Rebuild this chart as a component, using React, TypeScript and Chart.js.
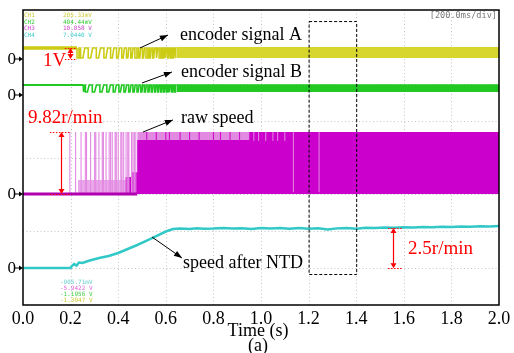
import React, { useEffect, useRef } from 'react';
import { Chart, registerables } from 'chart.js';

Chart.register(...registerables);

const SERIF = "'Liberation Serif', 'Times New Roman', 'DejaVu Serif', serif";
const MONO = "'DejaVu Sans Mono', 'Liberation Mono', monospace";

// ---- axes ----
const xTickLabels = ['0.0', '0.2', '0.4', '0.6', '0.8', '1.0', '1.2', '1.4', '1.6', '1.8', '2.0'];
const xTitle = 'Time (s)';
const subCaption = '(a)';
const Y_DIVS = 8; // vertical oscilloscope divisions

// ---- encoder signal A (yellow) ----
const encAHigh = 6.97;
const encALow = 6.70;
const encAFlatEnd = 0.227;
const encAPulses = [0.227, 0.242, 0.274, 0.308, 0.34, 0.368, 0.393, 0.415, 0.435, 0.453, 0.47, 0.486,
  0.502, 0.517, 0.531, 0.545, 0.559, 0.572, 0.585, 0.597, 0.608, 0.619, 0.63, 0.64];
const encABandStart = 0.645;

// ---- encoder signal B (green) ----
const encBHigh = 5.966;
const encBLow = 5.776;
const encBFlatEnd = 0.253;
const encBPulses = [0.253, 0.262, 0.291, 0.323, 0.352, 0.379, 0.403, 0.424, 0.444, 0.462, 0.479, 0.495,
  0.51, 0.525, 0.539, 0.553, 0.566, 0.579, 0.591, 0.603, 0.614, 0.625, 0.636];
const encBBandStart = 0.645;

// ---- raw speed (magenta) ----
const rawBase = 3.01;
const rawTop = 4.692;
const rawSpikeTimes = [0.197, 0.221, 0.244, 0.262, 0.267, 0.284, 0.301, 0.306, 0.319, 0.333, 0.338, 0.349,
  0.362, 0.368, 0.375, 0.387, 0.392, 0.4, 0.411, 0.416, 0.423, 0.433, 0.44, 0.445, 0.456, 0.462, 0.468, 0.474];
const rawLowBandT = [0.23, 0.48];
const rawLowBandV = [3.39, 3.39];
const rawLightBandT = [0.48, 0.95];
const rawLightBandV = [4.692, 4.692];
const rawDarkT = [0.43, 0.43, 0.455, 0.455, 0.48, 0.48, 0.95, 0.95, 2.0];
const rawDarkV = [3.01, 3.47, 3.47, 3.6, 3.6, 4.475, 4.475, 4.692, 4.692];
const rawDarkStreakTimes = [0.52, 0.56, 0.6, 0.615, 0.66, 0.7, 0.74, 0.8, 0.83, 0.87, 0.91];
const rawLongLightStreaks = [1.136, 1.244];
const rawShortLightStreaks = [0.97, 0.99, 1.02, 1.05, 1.07, 1.1];

// ---- speed after NTD (cyan) ----
const ntdT = [0, 0.1, 0.2, 0.205, 0.215, 0.225, 0.235, 0.25, 0.28, 0.32, 0.36, 0.4, 0.44, 0.48, 0.52, 0.56,
  0.6, 0.63, 0.66, 0.7, 0.73, 0.76, 0.8, 0.84, 0.88, 0.92, 0.96, 1.0, 1.04, 1.08, 1.12, 1.16, 1.2, 1.24,
  1.28, 1.32, 1.36, 1.4, 1.44, 1.48, 1.52, 1.56, 1.6, 1.64, 1.68, 1.72, 1.76, 1.8, 1.84, 1.88, 1.92, 1.96, 2.0];
const ntdV = [1.003, 1.003, 1.003, 1.058, 1.112, 1.071, 1.153, 1.139, 1.207, 1.275, 1.329, 1.41, 1.519, 1.627,
  1.749, 1.871, 1.993, 2.061, 2.075, 2.061, 2.08, 2.066, 2.075, 2.09, 2.072, 2.08, 2.061, 2.088, 2.075, 2.09,
  2.07, 2.085, 2.066, 2.082, 2.05, 2.078, 2.088, 2.07, 2.095, 2.085, 2.1, 2.092, 2.11, 2.102, 2.118, 2.108,
  2.122, 2.115, 2.128, 2.12, 2.133, 2.128, 2.142];

// ---- channel zero markers ----
const zeroLevels = [6.671, 5.695, 3.01, 1.003];

// ---- readouts ----
const topReadLabels = ['CH1', 'CH2', 'CH3', 'CH4'];
const topReadValues = ['205.33mV', '404.44mV', '10.058 V', '7.0440 V'];
const topReadColors = ['#cccc33', '#33cc33', '#cc44cc', '#44cccc'];
const bottomReadValues = ['-905.71mV', '-5.9422 V', '-1.1956 V', '-1.3947 V'];
const bottomReadColors = ['#66cccc', '#dd66dd', '#44cc44', '#cccc33'];
const timeBase = '[200.0ms/div]';

// ---- annotations (data units: t, divisions) ----
const labelTexts = ['encoder signal A', 'encoder signal B', 'raw speed', 'speed after NTD'];
const labelPos = [[0.66, 7.35], [0.664, 6.35], [0.664, 5.1], [0.672, 1.166]];
const labelArrows = [
  [0.4916, 6.97, 0.609, 7.32],
  [0.5, 6.02, 0.626, 6.32],
  [0.504, 4.69, 0.63, 5.02],
  [0.542, 1.844, 0.668, 1.275],
];
const redTexts = ['1V', '9.82r/min', '2.5r/min'];
const redTextPos = [[0.084, 6.64, 'left'], [0.021, 5.1, 'left'], [1.618, 1.546, 'left']];
const redArrowX = [0.197, 0.16, 1.555];
const redArrowY = [[6.97, 6.67], [4.69, 3.01], [2.09, 1.0]];
const redDotX = [[0.176, 0.227], [0.113, 0.2017], [1.534, 1.592]];
const zoomBox = [1.2, 7.7, 1.4, 0.84];

const COL_Y = '#cccc14';
const COL_YB = '#d6d62e';
const COL_G = '#22c922';
const COL_M = '#cc00cc';
const COL_ML = '#e28ae2';
const COL_MLL = '#eaa8ea';
const COL_C = '#33c8c8';

type P = { x: number; y: number | null };
const pts = (ts: number[], vs: number[]): P[] => ts.map((t, i) => ({ x: t, y: vs[i] }));

function pulseTrain(pulses: number[], end: number, hi: number, lo: number): P[] {
  const out: P[] = [];
  pulses.forEach((p, i) => {
    const next = i + 1 < pulses.length ? pulses[i + 1] : end;
    const d = next - p;
    out.push({ x: p, y: hi }, { x: p, y: lo }, { x: p + d * 0.3, y: lo }, { x: p + d * 0.55, y: hi });
  });
  out.push({ x: end, y: hi });
  return out;
}

function spikes(ts: number[], lo: number, hi: number): P[] {
  const out: P[] = [];
  ts.forEach((t) => out.push({ x: t, y: lo }, { x: t, y: hi }, { x: t, y: null }));
  return out;
}

function line(data: P[], color: string, width: number, order: number, extra: any = {}) {
  return {
    data,
    borderColor: color,
    backgroundColor: color,
    borderWidth: width,
    pointRadius: 0,
    tension: 0,
    spanGaps: false,
    fill: false,
    order,
    ...extra,
  };
}

function drawArrowHead(ctx: CanvasRenderingContext2D, x1: number, y1: number, x2: number, y2: number, len: number, half: number) {
  const a = Math.atan2(y2 - y1, x2 - x1);
  ctx.beginPath();
  ctx.moveTo(x2, y2);
  ctx.lineTo(x2 - len * Math.cos(a) + half * Math.sin(a), y2 - len * Math.sin(a) - half * Math.cos(a));
  ctx.lineTo(x2 - len * Math.cos(a) - half * Math.sin(a), y2 - len * Math.sin(a) + half * Math.cos(a));
  ctx.closePath();
  ctx.fill();
}

const overlay = {
  id: 'overlay',
  beforeDatasetsDraw(chart: any) {
    const { ctx, chartArea } = chart;
    const xs = chart.scales.x;
    const ys = chart.scales.y;
    ctx.save();
    ctx.strokeStyle = '#c4c4c4';
    ctx.lineWidth = 1;
    ctx.setLineDash([1, 2.5]);
    for (let i = 1; i < xTickLabels.length - 1; i++) {
      const x = Math.round(xs.getPixelForValue(parseFloat(xTickLabels[i]))) + 0.5;
      ctx.beginPath();
      ctx.moveTo(x, chartArea.top);
      ctx.lineTo(x, chartArea.bottom);
      ctx.stroke();
    }
    for (let d = 1; d < Y_DIVS; d++) {
      const y = Math.round(ys.getPixelForValue(d)) + 0.5;
      ctx.beginPath();
      ctx.moveTo(chartArea.left, y);
      ctx.lineTo(chartArea.right, y);
      ctx.stroke();
    }
    ctx.restore();
  },
  afterDatasetsDraw(chart: any) {
    const { ctx, chartArea } = chart;
    const xs = chart.scales.x;
    const ys = chart.scales.y;
    const X = (v: number) => xs.getPixelForValue(v);
    const Y = (v: number) => ys.getPixelForValue(v);
    ctx.save();

    // frame
    ctx.setLineDash([]);
    ctx.strokeStyle = '#000';
    ctx.lineWidth = 1.5;
    ctx.strokeRect(chartArea.left, chartArea.top, chartArea.right - chartArea.left, chartArea.bottom - chartArea.top);

    // zoom box
    ctx.lineWidth = 1;
    ctx.setLineDash([3, 2]);
    ctx.strokeRect(X(zoomBox[0]) + 0.5, Y(zoomBox[1]) + 0.5, X(zoomBox[2]) - X(zoomBox[0]), Y(zoomBox[3]) - Y(zoomBox[1]));
    ctx.setLineDash([]);

    // readouts
    ctx.font = `6px ${MONO}`;
    ctx.textBaseline = 'middle';
    ctx.textAlign = 'left';
    topReadLabels.forEach((lab, i) => {
      ctx.fillStyle = topReadColors[i];
      const y = chartArea.top + 5.5 + i * 6.5;
      ctx.fillText(lab, chartArea.left + 1, y);
      ctx.fillText(topReadValues[i], chartArea.left + 40, y);
    });
    bottomReadValues.forEach((v, i) => {
      ctx.fillStyle = bottomReadColors[i];
      ctx.fillText(v, chartArea.left + 37, chartArea.bottom - 23 + i * 6);
    });
    ctx.fillStyle = '#777';
    ctx.font = `8.6px ${MONO}`;
    ctx.textAlign = 'right';
    ctx.fillText(timeBase, chartArea.right - 2, chartArea.top + 6);

    // zero markers
    ctx.fillStyle = '#000';
    ctx.strokeStyle = '#000';
    ctx.font = `17px ${SERIF}`;
    ctx.textAlign = 'right';
    zeroLevels.forEach((z) => {
      const y = Y(z);
      ctx.fillText('0', chartArea.left - 7, y + 0.5);
      ctx.lineWidth = 1;
      ctx.beginPath();
      ctx.moveTo(chartArea.left - 8, y);
      ctx.lineTo(chartArea.left - 3, y);
      ctx.stroke();
      drawArrowHead(ctx, chartArea.left - 8, y, chartArea.left, y, 4, 2.5);
    });

    // black labels + arrows
    ctx.font = `18px ${SERIF}`;
    ctx.textAlign = 'left';
    labelTexts.forEach((t, i) => {
      ctx.fillText(t, X(labelPos[i][0]), Y(labelPos[i][1]) + 1);
    });
    ctx.lineWidth = 1;
    labelArrows.forEach((a) => {
      const x1 = X(a[0]), y1 = Y(a[1]), x2 = X(a[2]), y2 = Y(a[3]);
      ctx.beginPath();
      ctx.moveTo(x1, y1);
      ctx.lineTo(x2, y2);
      ctx.stroke();
      drawArrowHead(ctx, x1, y1, x2, y2, 8, 3);
    });

    // red annotations
    ctx.fillStyle = '#ff0000';
    ctx.strokeStyle = '#ff0000';
    ctx.font = `19px ${SERIF}`;
    redTexts.forEach((t, i) => {
      ctx.textAlign = redTextPos[i][2] as CanvasTextAlign;
      ctx.fillText(t, X(redTextPos[i][0] as number), Y(redTextPos[i][1] as number) + 1);
    });
    redArrowX.forEach((ax, i) => {
      const x = Math.round(X(ax)) + 0.5;
      const y1 = Y(redArrowY[i][0]);
      const y2 = Y(redArrowY[i][1]);
      ctx.setLineDash([]);
      ctx.lineWidth = 1.2;
      ctx.beginPath();
      ctx.moveTo(x, y1 + 3);
      ctx.lineTo(x, y2 - 3);
      ctx.stroke();
      drawArrowHead(ctx, x, y2, x, y1, 5, 3);
      drawArrowHead(ctx, x, y1, x, y2, 5, 3);
      ctx.lineWidth = 1;
      ctx.setLineDash([1.5, 1.5]);
      [y1, y2].forEach((yy) => {
        ctx.beginPath();
        ctx.moveTo(X(redDotX[i][0]), Math.round(yy) + 0.5);
        ctx.lineTo(X(redDotX[i][1]), Math.round(yy) + 0.5);
        ctx.stroke();
      });
    });
    ctx.setLineDash([]);

    // axis title + caption
    ctx.fillStyle = '#000';
    ctx.font = `18px ${SERIF}`;
    ctx.textAlign = 'center';
    const cx = (chartArea.left + chartArea.right) / 2 - 3;
    ctx.fillText(xTitle, cx, chartArea.bottom + 26);
    ctx.fillText(subCaption, cx, chartArea.bottom + 41);
    ctx.restore();
  },
};

export default function App() {
  const ref = useRef<HTMLCanvasElement | null>(null);
  useEffect(() => {
    if (!ref.current) return;
    const datasets: any[] = [
      // cyan
      line(pts(ntdT, ntdV), COL_C, 2.5, 1),
      // green
      line([{ x: 0, y: encBHigh }, { x: encBFlatEnd, y: encBHigh }], COL_G, 2.2, 2),
      line(pulseTrain(encBPulses, encBBandStart, encBHigh, encBLow), COL_G, 1.6, 3),
      line([{ x: encBBandStart, y: encBHigh }, { x: 2, y: encBHigh }], COL_G, 1.5, 4, { fill: { value: encBLow } }),
      // yellow
      line([{ x: 0, y: encAHigh }, { x: encAFlatEnd, y: encAHigh }], COL_Y, 3.6, 5),
      line(pulseTrain(encAPulses, encABandStart, encAHigh, encALow), COL_Y, 1.6, 6),
      line([{ x: encABandStart, y: encAHigh }, { x: 2, y: encAHigh }], COL_YB, 2, 7, { fill: { value: encALow }, backgroundColor: COL_YB }),
      // magenta
      line([{ x: 0, y: rawBase }, { x: 0.48, y: rawBase }], '#b000b0', 3, 10),
      line(spikes(rawShortLightStreaks, 4.45, rawTop), COL_ML, 1, 11),
      line(spikes(rawLongLightStreaks, 3.06, rawTop), COL_ML, 1, 12),
      line(spikes(rawDarkStreakTimes, 3.3, rawTop), COL_M, 1, 13),
      line(spikes(rawSpikeTimes, rawBase, rawTop), COL_ML, 1.1, 14),
      line(pts(rawDarkT, rawDarkV), COL_M, 0, 15, { fill: { value: rawBase }, backgroundColor: COL_M }),
      line(pts(rawLightBandT, rawLightBandV), COL_ML, 0, 16, { fill: { value: rawBase }, backgroundColor: COL_ML }),
      line(pts(rawLowBandT, rawLowBandV), COL_MLL, 0, 17, { fill: { value: rawBase }, backgroundColor: COL_MLL }),
    ];
    const chart = new Chart(ref.current, {
      type: 'line',
      data: { datasets },
      options: {
        animation: false,
        responsive: false,
        devicePixelRatio: 1,
        events: [],
        layout: { padding: { left: 23, right: 15, top: 10, bottom: 0 } },
        plugins: { legend: { display: false }, tooltip: { enabled: false } },
        elements: { point: { radius: 0 }, line: { tension: 0 } },
        scales: {
          x: {
            type: 'linear',
            min: 0,
            max: 2,
            afterFit: (s: any) => { s.height = 48; },
            grid: { display: false, drawTicks: false },
            border: { display: false },
            ticks: {
              stepSize: 0.2,
              autoSkip: false,
              maxRotation: 0,
              padding: 3,
              color: '#000',
              font: { family: SERIF, size: 18 },
              callback: (v: any) => xTickLabels[Math.round(Number(v) / 0.2)] ?? '',
            },
          },
          y: { type: 'linear', display: false, min: 0, max: Y_DIVS },
        },
      } as any,
      plugins: [overlay],
    });
    return () => chart.destroy();
  }, []);
  return (
    <div style={{ position: 'fixed', left: 0, top: 0, width: 514, height: 353, background: '#fff' }}>
      <canvas ref={ref} width={514} height={353} style={{ width: 514, height: 353, display: 'block' }} />
    </div>
  );
}
